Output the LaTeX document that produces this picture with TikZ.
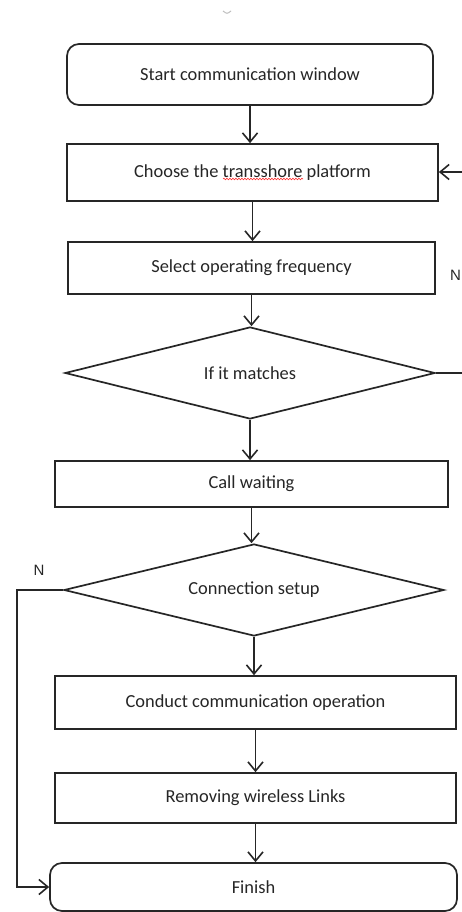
\documentclass[tikz,border=0pt]{standalone}
\usepackage{fontspec}
\setmainfont{Carlito}
\newfontfamily\labelfont{Liberation Sans}
\usetikzlibrary{shapes.geometric,arrows.meta,decorations.pathmorphing}
\begin{document}
\begin{tikzpicture}[x=1pt,y=-1pt,
  every node/.style={font=\fontsize{18.4}{22}\selectfont, text=black!85},
  procbox/.style={draw=black!85, line width=1.7pt, rectangle, inner sep=0pt},
  termbox/.style={procbox, rounded corners=12pt},
  decbox/.style={draw=black!85, line width=1.7pt, diamond, inner sep=0pt, aspect=4},
  flow/.style={draw=black!85, line width=1.7pt, -{Straight Barb[length=9pt,width=15pt,line width=1.6pt]}},
  plain/.style={draw=black!85, line width=1.7pt},
  nlabel/.style={font=\labelfont\fontsize{15}{17}\selectfont, text=black!85}
]
\useasboundingbox (0,0) rectangle (461,912);
\fill[white] (0,0) rectangle (461,912);

% small mark at top
\draw[gray!50, line width=1pt] (223,11) .. controls (227,14) .. (231,11);

\node[termbox, minimum width=366pt, minimum height=61pt] (start) at (250,74.5) {Start communication window};
\node[procbox, minimum width=371pt, minimum height=57pt] (choose) at (252.5,172.5) {Choose the transshore platform};
\node[procbox, minimum width=367pt, minimum height=52pt] (select) at (251.5,268) {Select operating frequency};
\node[decbox, minimum width=370pt, minimum height=92pt] (d1) at (250,373) {If it matches};
\node[procbox, minimum width=393pt, minimum height=46pt] (callw) at (251.5,484) {Call waiting};
\node[decbox, minimum width=380pt, minimum height=92pt] (d2) at (254,590) {Connection setup};
\node[procbox, minimum width=401pt, minimum height=53pt] (conduct) at (255.5,702.5) {Conduct communication operation};
\node[procbox, minimum width=401pt, minimum height=50pt] (remove) at (255.5,798) {Removing wireless Links};
\node[termbox, minimum width=407pt, minimum height=48pt] (finish) at (253.5,887) {Finish};

% spell-check squiggle under "transshore"
\draw[red!80, line width=0.6pt, decorate, decoration={snake, amplitude=0.8pt, segment length=3pt}] (223,179) -- (303,179);

% main flow
\draw[flow] (start.south) -- (start.south |- choose.north);
\draw[flow] (choose.south) -- (choose.south |- select.north);
\draw[flow] (select.south) -- (select.south |- d1.north);
\draw[flow] (d1.south) -- (d1.south |- callw.north);
\draw[flow] (callw.south) -- (callw.south |- d2.north);
\draw[flow] (d2.south) -- (d2.south |- conduct.north);
\draw[flow] (conduct.south) -- (conduct.south |- remove.north);
\draw[flow] (remove.south) -- (remove.south |- finish.north);

% right loop (cut off by the page edge)
\coordinate (r1) at (462,373);
\coordinate (r2) at (462,172);
\draw[plain] (d1.east) -- (r1);
\draw[flow] (r2) -- (choose.east |- r2);
\node[nlabel, anchor=west, inner sep=0pt] (nright) at (450,275) {N};

% left loop
\coordinate (l1) at (17,590);
\draw[flow] (d2.west) -- (l1) |- (finish.west);
\node[nlabel, inner sep=0pt] (nleft) at (39,570) {N};
\end{tikzpicture}
\end{document}
